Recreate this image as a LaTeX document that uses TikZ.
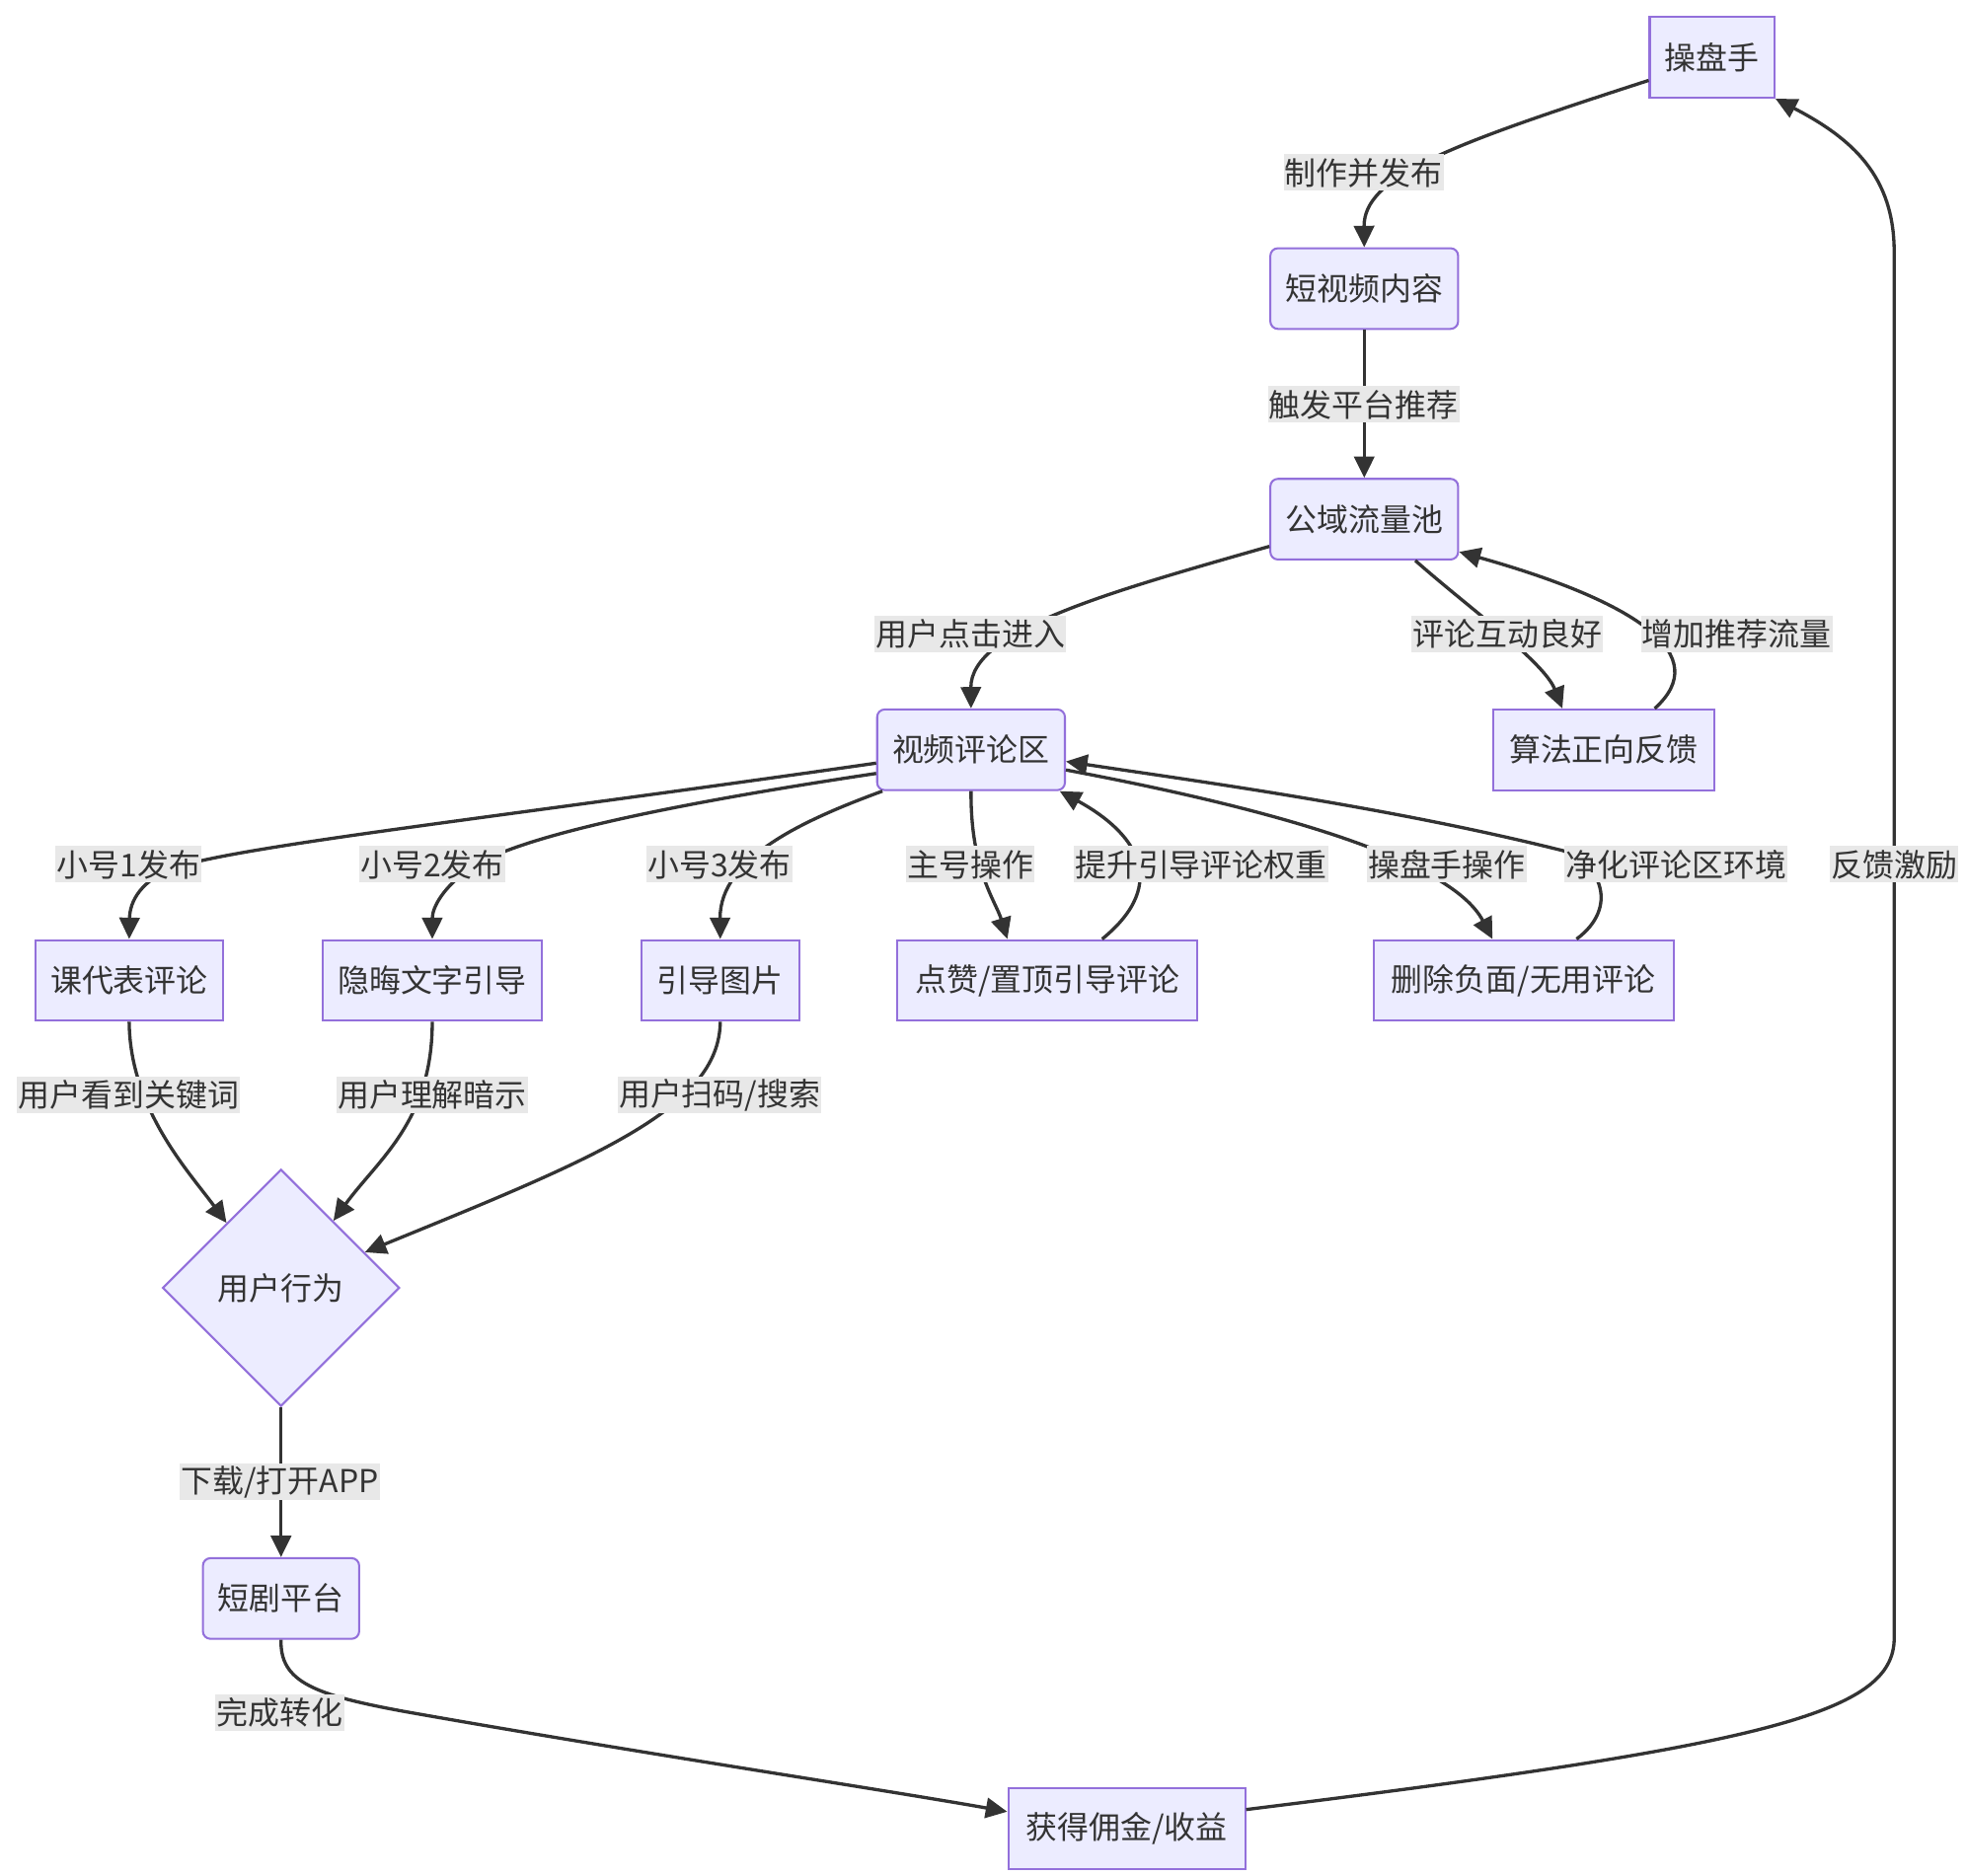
\documentclass[tikz,border=0pt]{standalone}
\usepackage{fontspec}
\setmainfont{Noto Sans CJK SC}
\usetikzlibrary{arrows.meta,shapes.geometric}
\definecolor{nodefill}{HTML}{ECECFF}
\definecolor{nodedraw}{HTML}{9370DB}
\definecolor{edgecol}{HTML}{333333}
\definecolor{lblbg}{HTML}{E8E8E8}
\definecolor{txt}{HTML}{333333}
\begin{document}
\begin{tikzpicture}[x=1pt,y=-1pt,
  font=\fontsize{25}{30}\selectfont,
  box/.style={draw=nodedraw, fill=nodefill, line width=1.6pt, minimum height=64pt, inner xsep=12pt, inner ysep=0pt, text=txt},
  rbox/.style={box, rounded corners=6pt},
  lbl/.style={fill=lblbg, inner xsep=1pt, inner ysep=0pt, minimum height=29pt, text=txt},
  conn/.style={draw=edgecol, line width=2.6pt, -{Triangle[length=17pt,width=16pt]}}]
\fill[white] (0,0) rectangle (1560,1488);
\useasboundingbox (0,0) rectangle (1560,1488);
% nodes
\node[box, minimum width=99pt] (n1) at (1358.5,45.5) {操盘手};
\node[rbox, minimum width=149pt] (n2) at (1082.5,229) {短视频内容};
\node[rbox, minimum width=149pt] (n3) at (1082.5,412) {公域流量池};
\node[rbox, minimum width=149pt] (n4) at (770.5,595) {视频评论区};
\node[box, minimum width=175pt] (n5) at (1272.5,595) {算法正向反馈};
\node[box, minimum width=149pt] (n6) at (102.5,778) {课代表评论};
\node[box, minimum width=174pt] (n7) at (343,778) {隐晦文字引导};
\node[box, minimum width=125pt] (n8) at (571.5,778) {引导图片};
\node[box, minimum width=238pt] (n9) at (831,778) {点赞/置顶引导评论};
\node[box, minimum width=238pt] (n10) at (1209,778) {删除负面/无用评论};
\node[diamond, draw=nodedraw, fill=nodefill, line width=1.6pt, minimum width=188pt, minimum height=188pt, inner sep=0pt, text=txt] (n11) at (223,1022) {用户行为};
\node[rbox, minimum width=124pt] (n12) at (223,1268.5) {短剧平台};
\node[box, minimum width=188pt] (n13) at (894,1451) {获得佣金/收益};
% edges
\draw[conn] (n1.200) .. controls (1150,115) and (1082,140) .. (n2.north);
\draw[conn] (n2) -- (n3);
\draw[conn] (n3.196) .. controls (880,470) and (770,500) .. (n4.north);
\draw[conn] (n3.321) .. controls (1165,482) and (1225,525) .. (n5.135);
\draw[conn] (n5.39) .. controls (1360,520) and (1300,478) .. (n3.341);
\draw[conn] (n4.188.5) .. controls (400,648) and (200,670) .. (140,688) .. controls (112,698) and (103,715) .. (n6.north);
\draw[conn] (n4.194) .. controls (520,640) and (410,665) .. (375,688) .. controls (352,703) and (343,720) .. (n7.north);
\draw[conn] (n4.205.5) .. controls (640,650) and (571,680) .. (n8.north);
\draw[conn] (n4.south) .. controls (770,690) and (790,715) .. (n9.134);
\draw[conn] (n9.37) .. controls (930,700) and (900,660) .. (n4.335);
\draw[conn] (n4.348.6) .. controls (1000,640) and (1150,680) .. (n10.127);
\draw[conn] (n10.38) .. controls (1285,720) and (1270,685) .. (1240,675) .. controls (1100,640) and (950,620) .. (n4.353);
\draw[conn] (n13.9) .. controls (1400,1385) and (1503,1360) .. (1503,1300) -- (1503,200) .. controls (1503,140) and (1470,110) .. (n1.south east);
\draw[conn] (n6.south) .. controls (103,880) and (150,930) .. (n11.130);
\draw[conn] (n7.south) .. controls (343,890) and (300,920) .. (n11.52);
\draw[conn] (n8.south) .. controls (571,880) and (470,920) .. (n11.23);
\draw[conn] (n11.south) -- (n12.north);
\draw[conn] (n12.south) .. controls (222,1335) and (250,1345) .. (320,1358) .. controls (500,1390) and (700,1420) .. (n13.172);
% labels
\node[lbl] (l1) at (1082,137) {制作并发布};
\node[lbl] (l2) at (1082,321) {触发平台推荐};
\node[lbl] (l3) at (770,503) {用户点击进入};
\node[lbl] (l4) at (1196,503) {评论互动良好};
\node[lbl] (l5) at (1378,503) {增加推荐流量};
\node[lbl] (l6) at (102,686) {小号1发布};
\node[lbl] (l7) at (343,686) {小号2发布};
\node[lbl] (l8) at (571,686) {小号3发布};
\node[lbl] (l9) at (770,686) {主号操作};
\node[lbl] (l10) at (953,686) {提升引导评论权重};
\node[lbl] (l11) at (1148,686) {操盘手操作};
\node[lbl] (l12) at (1330,686) {净化评论区环境};
\node[lbl] (l13) at (1503,686) {反馈激励};
\node[lbl] (l14) at (102,869) {用户看到关键词};
\node[lbl] (l15) at (343,869) {用户理解暗示};
\node[lbl] (l16) at (571,869) {用户扫码/搜索};
\node[lbl] (l17) at (222,1176) {下载/打开APP};
\node[lbl] (l18) at (222,1359) {完成转化};
\end{tikzpicture}
\end{document}
